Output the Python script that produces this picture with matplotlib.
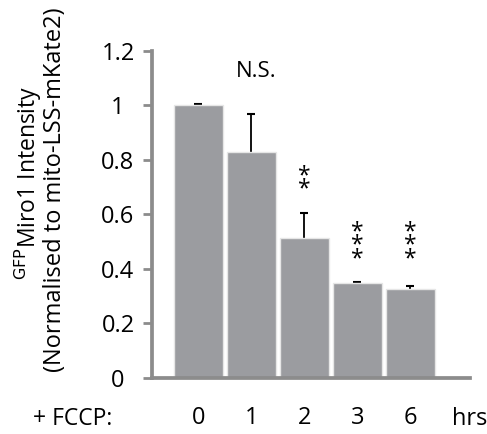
import matplotlib
matplotlib.use("Agg")
import matplotlib.pyplot as plt

categories = ["0", "1", "2", "3", "6"]
values = [1.0, 0.827, 0.514, 0.346, 0.327]
errors = [0.004, 0.14, 0.092, 0.007, 0.009]
annotations = ["", "N.S.", "*\n*", "*\n*\n*", "*\n*\n*"]
yticks = [0, 0.2, 0.4, 0.6, 0.8, 1, 1.2]
yticklabels = ["0", "0.2", "0.4", "0.6", "0.8", "1", "1.2"]

plt.rcParams['font.family'] = ['Open Sans', 'DejaVu Sans']

fig = plt.figure(figsize=(4.87, 4.34), dpi=100)
ax = fig.add_axes([152/487, 1-377.7/434, (470-152)/487, (377.7-50.7)/434])

x = list(range(len(categories)))
spine_col = '#8c8c8c'
ax.bar(x, values, width=0.92, color='#9b9ca0', edgecolor='#e6e6e6', linewidth=1.0, zorder=2)
ax.errorbar(x, values, yerr=errors, fmt='none', ecolor='black',
            elinewidth=1.3, capsize=3.2, capthick=1.5, zorder=1)

ax.set_xlim(-0.877, 5.13)
ax.set_ylim(0, 1.2)
ax.set_yticks(yticks)
ax.set_yticklabels(yticklabels, fontsize=17, ha='center')
ax.set_xticks([])
for s in ['top', 'right']:
    ax.spines[s].set_visible(False)
for s in ['left', 'bottom']:
    ax.spines[s].set_color(spine_col)
    ax.spines[s].set_linewidth(2.7)
    ax.spines[s].set_zorder(3)
ax.tick_params(axis='y', length=6.5, width=2.0, color=spine_col, pad=18)

# annotations
ax.text(1.1, 1.125, annotations[1], ha='center', va='center', fontsize=16)
ax.text(2.0, 0.715, annotations[2], ha='center', va='center', fontsize=16.5, linespacing=0.42)
ax.text(3.0, 0.485, annotations[3], ha='center', va='center', fontsize=16.5, linespacing=0.42)
ax.text(4.0, 0.485, annotations[4], ha='center', va='center', fontsize=16.5, linespacing=0.42)

# x labels as text below
for xi, lab in zip(x, categories):
    ax.text(xi, -0.148, lab, ha='center', va='center', fontsize=17)
fig.text(73/487, 1-419/434, "+ FCCP:", ha='center', va='center', fontsize=16.5)
fig.text(470/487, 1-419/434, "hrs", ha='center', va='center', fontsize=17)

# y label
fig.text(28/487, 1-183/434, "$^{\\mathrm{GFP}}$Miro1 Intensity", rotation=90,
         ha='center', va='center', fontsize=16.5)
fig.text(55/487, 1-190/434, "(Normalised to mito-LSS-mKate2)", rotation=90,
         ha='center', va='center', fontsize=17)

fig.savefig("out.png", dpi=100)
